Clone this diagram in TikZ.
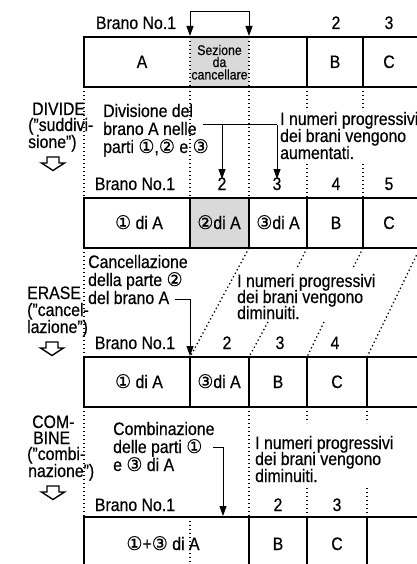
\documentclass[tikz,border=0pt]{standalone}
\usepackage{fontspec}
\setmainfont{Liberation Sans}[FakeStretch=0.88,FakeBold=0.5]
\newfontfamily\circfont{DejaVu Sans}[Scale=1.05,FakeStretch=0.95,FakeBold=0.4]
\usetikzlibrary{arrows.meta}
\newcommand{\ci}[1]{{\circfont #1}}
\tikzset{
  txt/.style={inner sep=0pt, font=\fontsize{18}{17.5}\selectfont},
  lt/.style={txt, anchor=base west},
  ct/.style={txt, anchor=base},
  smalltxt/.style={inner sep=0pt, anchor=base, font=\fontsize{14}{12.3}\selectfont},
  rowline/.style={line width=1.3pt},
  dots/.style={line width=1.3pt, dash pattern=on 1.3pt off 2.7pt},
  arr/.style={line width=1pt, -{Triangle[length=10pt,width=7pt]}},
  plainline/.style={line width=1pt},
  cell/.style={fill=black!15},
  harrow/.pic={\draw[line width=1.4pt, line join=miter]
     (-6,0) -- (6,0) -- (6,6) -- (11.5,6) -- (0,13.5) -- (-11.5,6) -- (-6,6) -- cycle;}
}
\begin{document}
\begin{tikzpicture}[x=1pt,y=-1pt]
\useasboundingbox (0,0) rectangle (416,564);
\fill[white] (0,0) rectangle (416,564);
% ---------- row 1 ----------
\fill[cell] (190,37) rectangle (249,87);
\draw[rowline] (420,37) -- (84,37) -- (84,87) -- (420,87);
\draw[rowline] (307,37) -- (307,87) (363,37) -- (363,87);
\draw[dots] (190,37) -- (190,87) (249,37) -- (249,87);
\node[ct] (h1) at (136,29) {Brano No.1};
\node[ct] (h1n2) at (336,29) {2};
\node[ct] (h1n3) at (389,29) {3};
\node[ct] (r1A) at (142,68) {A};
\node[ct] (r1B) at (335,68) {B};
\node[ct] (r1C) at (389,68) {C};
\node[smalltxt] (sez1) at (219.5,55) {Sezione};
\node[smalltxt] (sez2) at (219.5,67) {da};
\node[smalltxt] (sez3) at (219.5,79.5) {cancellare};
\coordinate (c1a) at (190,36);
\coordinate (c1b) at (249,36);
\draw[line width=1pt, {Triangle[length=10pt,width=7pt]}-{Triangle[length=10pt,width=7pt]}]
  (c1a) -- ++(0,-24) -| (c1b);
% ---------- section 1 : DIVIDE ----------
\draw[dots] (84,87) -- (84,198);
\draw[dots] (190,87) -- (190,198);
\draw[dots] (249,87) -- (249,198);
\draw[dots] (307,87) -- (307,111) (307,164) -- (307,198);
\draw[dots] (363,87) -- (363,111) (363,164) -- (363,198);
\node[lt] (dv1) at (32,115) {DIVIDE};
\node[lt] (dv2) at (28,131) {("suddivi-};
\node[lt] (dv3) at (28,148) {sione")};
\pic at (53,157) {harrow};
\node[lt] (dt1) at (103,117) {Divisione del};
\node[lt] (dt2) at (103,135) {brano A nelle};
\node[lt] (dt3) at (103,153) {parti \ci{①},\ci{②} e \ci{③}};
\node[lt] (du1) at (280,125) {I numeri progressivi};
\node[lt] (du2) at (280,142) {dei brani vengono};
\node[lt] (du3) at (280,159) {aumentati.};
\coordinate (d0) at (203,125);
\coordinate (d2) at (222,179);
\coordinate (d3) at (277,179);
\draw[plainline] (d0) -- (d3 |- d0);
\draw[arr] (d2 |- d0) -- (d2);
\draw[arr] (d3 |- d0) -- (d3);
% ---------- row 2 ----------
\fill[cell] (190,198) rectangle (249,248);
\draw[rowline] (420,198) -- (84,198) -- (84,248) -- (420,248);
\draw[rowline] (190,198) -- (190,248) (249,198) -- (249,248)
               (307,198) -- (307,248) (363,198) -- (363,248);
\node[ct] (h2) at (135,190) {Brano No.1};
\node[ct] (h2n2) at (222,190) {2};
\node[ct] (h2n3) at (277,190) {3};
\node[ct] (h2n4) at (336,190) {4};
\node[ct] (h2n5) at (389,190) {5};
\node[ct] (r2a) at (139,229) {\ci{①} di A};
\node[ct] (r2b) at (219,229) {\ci{②}di A};
\node[ct] (r2c) at (278,229) {\ci{③}di A};
\node[ct] (r2B) at (336,229) {B};
\node[ct] (r2C) at (389,229) {C};
% ---------- section 2 : ERASE ----------
\draw[dots] (84,248) -- (84,357);
\draw[dots] (249,248) -- (190,357);
\draw[dots] (307,248) -- (297,268) (268,322) -- (249,357);
\draw[dots] (363,248) -- (353,268) (324,322) -- (307,357);
\draw[dots] (420,248) -- (367,357);
\node[lt] (er1) at (27,299) {ERASE};
\node[lt] (er2) at (27,316) {("cancel-};
\node[lt] (er3) at (27,333) {lazione")};
\pic at (52,342) {harrow};
\node[lt] (ca1) at (88,268) {Cancellazione};
\node[lt] (ca2) at (88,286) {della parte \ci{②}};
\node[lt] (ca3) at (88,304) {del brano A};
\node[lt] (dm1) at (237,287) {I numeri progressivi};
\node[lt] (dm2) at (237,303) {dei brani vengono};
\node[lt] (dm3) at (237,319) {diminuiti.};
\coordinate (e0) at (175,299);
\coordinate (e1) at (190,356);
\draw[arr] (e0) -| (e1);
% ---------- row 3 ----------
\draw[rowline] (420,357) -- (84,357) -- (84,407) -- (420,407);
\draw[rowline] (190,357) -- (190,407) (249,357) -- (249,407)
               (307,357) -- (307,407) (367,357) -- (367,407);
\node[ct] (h3) at (135,349) {Brano No.1};
\node[ct] (h3n2) at (227,349) {2};
\node[ct] (h3n3) at (280,349) {3};
\node[ct] (h3n4) at (335,349) {4};
\node[ct] (r3a) at (139,388) {\ci{①} di A};
\node[ct] (r3b) at (219,388) {\ci{③}di A};
\node[ct] (r3B) at (278,388) {B};
\node[ct] (r3C) at (337,388) {C};
% ---------- section 3 : COMBINE ----------
\draw[dots] (84,407) -- (84,517);
\draw[dots] (249,407) -- (249,517);
\draw[dots] (307,407) -- (307,423) (307,488) -- (307,517);
\draw[dots] (367,407) -- (367,423) (367,488) -- (367,517);
\node[lt] (cb1) at (32,428) {COM-};
\node[lt] (cb2) at (33,444) {BINE};
\node[lt] (cb3) at (27,460) {("combi-};
\node[lt] (cb4) at (28,477) {nazione")};
\pic at (53,486) {harrow};
\node[lt] (co1) at (113,435) {Combinazione};
\node[lt] (co2) at (113,453) {delle parti \ci{①}};
\node[lt] (co3) at (113,471) {e \ci{③} di A};
\node[lt] (dn1) at (255,449) {I numeri progressivi};
\node[lt] (dn2) at (255,465) {dei brani vengono};
\node[lt] (dn3) at (255,482) {diminuiti.};
\coordinate (k0) at (213,447);
\coordinate (k1) at (223,516);
\draw[arr] (k0) -| (k1);
% ---------- row 4 ----------
\draw[rowline] (420,517) -- (84,517) -- (84,570);
\draw[rowline] (249,517) -- (249,570) (307,517) -- (307,570) (367,517) -- (367,570);
\draw[dots] (190,517) -- (190,570);
\node[ct] (h4) at (135,511) {Brano No.1};
\node[ct] (h4n2) at (278,511) {2};
\node[ct] (h4n3) at (337,511) {3};
\node[ct] (r4a) at (163,550) {\ci{①}+\ci{③} di A};
\node[ct] (r4B) at (278,550) {B};
\node[ct] (r4C) at (337,550) {C};
\end{tikzpicture}
\end{document}
